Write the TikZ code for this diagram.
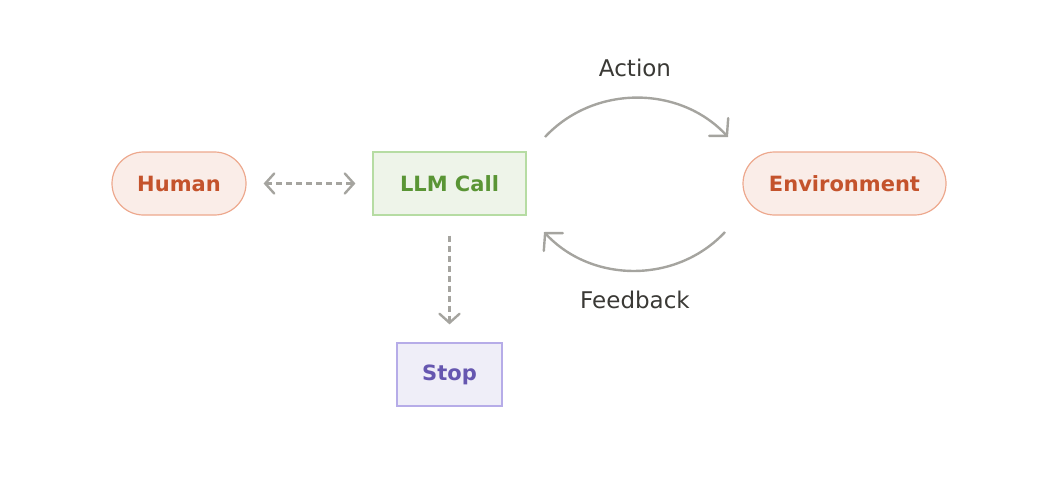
\documentclass[tikz,border=0pt]{standalone}
\usepackage{fontspec}
\setmainfont{DejaVu Sans}
\usetikzlibrary{arrows.meta,calc}
\definecolor{hfill}{HTML}{FAEDE8}
\definecolor{hdraw}{HTML}{EDA88D}
\definecolor{htext}{HTML}{C4532C}
\definecolor{lfill}{HTML}{EEF4E9}
\definecolor{ldraw}{HTML}{B6DCA3}
\definecolor{ltext}{HTML}{5A9535}
\definecolor{sfill}{HTML}{EFEEF8}
\definecolor{sdraw}{HTML}{B6ACE8}
\definecolor{stext}{HTML}{6657B0}
\definecolor{arr}{HTML}{A5A49F}
\definecolor{lab}{HTML}{3A3935}
\tikzset{
  nfont/.style={font=\fontsize{21}{24}\selectfont\bfseries},
  pill/.style={draw=hdraw, fill=hfill, line width=1.2pt, rounded corners=31.5pt,
    minimum height=63pt, text=htext, nfont, inner sep=0pt},
  llmbox/.style={draw=ldraw, fill=lfill, line width=1.2pt, minimum width=153pt,
    minimum height=63pt, text=ltext, nfont, inner sep=0pt},
  stopbox/.style={draw=sdraw, fill=sfill, line width=1.2pt, minimum width=105pt,
    minimum height=63pt, text=stext, nfont, inner sep=0pt},
  dtip/.tip={Straight Barb[length=9pt,width=20pt,line width=2.4pt,line cap=round]},
  atip/.tip={Straight Barb[length=12pt,width=26pt,line width=2.4pt,line cap=round]},
  dashconn/.style={draw=arr, line width=2.4pt, dash pattern=on 6pt off 4pt, {dtip}-{dtip}},
  dashone/.style={draw=arr, line width=2.4pt, dash pattern=on 6pt off 4pt, -{dtip}},
  arc/.style={draw=arr, line width=2.4pt, -{atip}},
  lbl/.style={text=lab, font=\fontsize{23}{26}\selectfont, inner sep=0pt}
}
\begin{document}
\begin{tikzpicture}[x=1pt,y=-1pt]
\useasboundingbox (0,0) rectangle (1056,487);
\node[pill, minimum width=134pt] (human) at (179,183.5) {Human};
\node[llmbox] (llm) at (449.5,183.5) {LLM Call};
\node[pill, minimum width=203pt] (env) at (844.5,183.5) {Environment};
\node[stopbox] (stop) at (449.5,374.5) {Stop};
\node[lbl] (action) at (635,68) {Action};
\node[lbl] (feedback) at (635,300) {Feedback};
\coordinate (a1) at (545,137);
\coordinate (a2) at (728,137);
\coordinate (f1) at (725,232);
\coordinate (f2) at (544,232);
\coordinate (hs) at ($(human.east)+(17,0)$);
\coordinate (ls) at ($(llm.west)+(-17,0)$);
\coordinate (st1) at ($(llm.south)+(0,20)$);
\coordinate (st2) at ($(stop.north)+(0,-18)$);
\path[dashconn] (hs) -- (ls);
\path[dashone] (st1) -- (st2);
\path[arc] (a1) to[bend left=47] (a2);
\path[arc] (f1) to[bend left=47] (f2);
\end{tikzpicture}
\end{document}
